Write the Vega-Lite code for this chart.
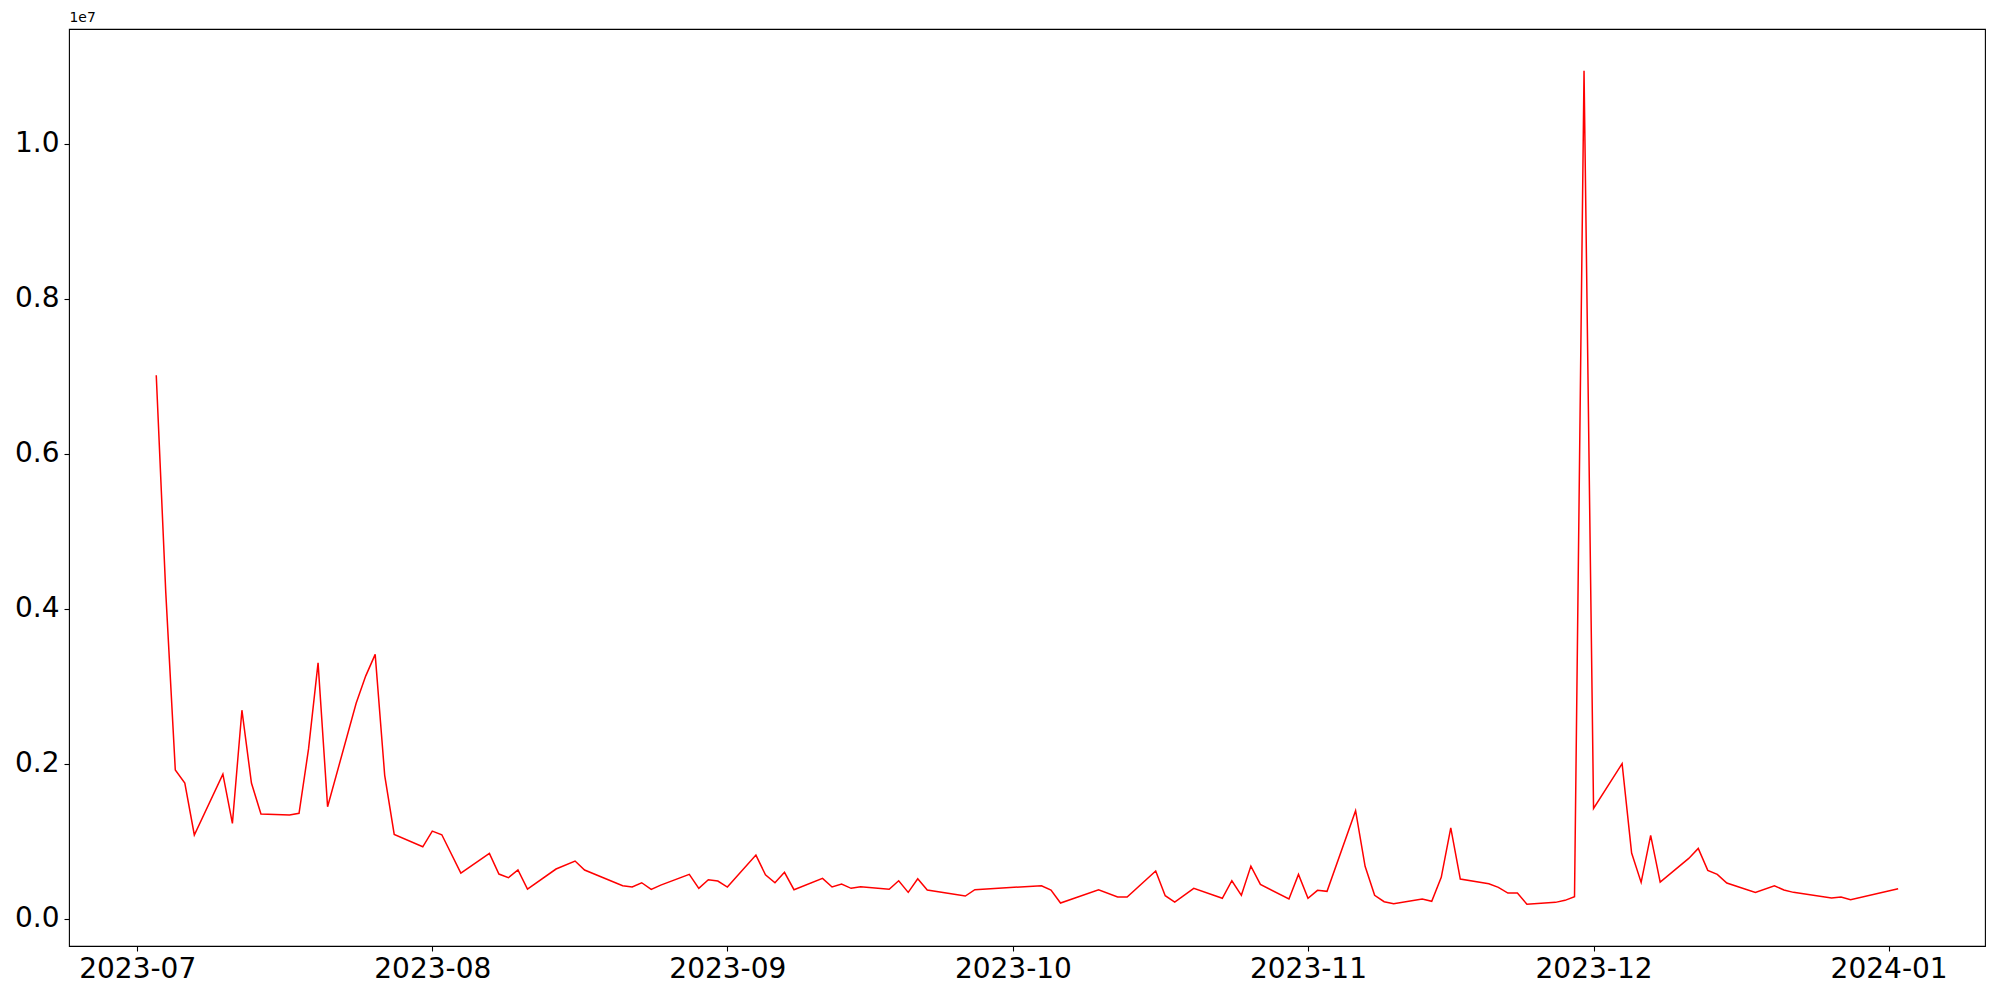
{
  "$schema": "https://vega.github.io/schema/vega-lite/v6.json",
  "width": 1916,
  "height": 917,
  "autosize": {"type": "none"},
  "padding": {"left": 69, "top": 29, "right": 15, "bottom": 54},
  "background": "white",
  "config": {
    "view": {"stroke": "black", "strokeWidth": 1.1},
    "font": "DejaVu Sans"
  },
  "data": {
    "values": [
      {"date": "2023-07-03", "value": 7010000},
      {"date": "2023-07-04", "value": 4210000},
      {"date": "2023-07-05", "value": 1920000},
      {"date": "2023-07-06", "value": 1750000},
      {"date": "2023-07-07", "value": 1080000},
      {"date": "2023-07-10", "value": 1866000},
      {"date": "2023-07-11", "value": 1230000},
      {"date": "2023-07-12", "value": 2690000},
      {"date": "2023-07-13", "value": 1750000},
      {"date": "2023-07-14", "value": 1350000},
      {"date": "2023-07-17", "value": 1337000},
      {"date": "2023-07-18", "value": 1360000},
      {"date": "2023-07-19", "value": 2190000},
      {"date": "2023-07-20", "value": 3300000},
      {"date": "2023-07-21", "value": 1444000},
      {"date": "2023-07-24", "value": 2780000},
      {"date": "2023-07-25", "value": 3130000},
      {"date": "2023-07-26", "value": 3410000},
      {"date": "2023-07-27", "value": 1850000},
      {"date": "2023-07-28", "value": 1088000},
      {"date": "2023-07-31", "value": 928000},
      {"date": "2023-08-01", "value": 1130000},
      {"date": "2023-08-02", "value": 1083000},
      {"date": "2023-08-04", "value": 589000},
      {"date": "2023-08-07", "value": 843000},
      {"date": "2023-08-08", "value": 576000},
      {"date": "2023-08-09", "value": 529000},
      {"date": "2023-08-10", "value": 628000},
      {"date": "2023-08-11", "value": 383000},
      {"date": "2023-08-14", "value": 641000},
      {"date": "2023-08-16", "value": 744000},
      {"date": "2023-08-17", "value": 628000},
      {"date": "2023-08-21", "value": 426000},
      {"date": "2023-08-22", "value": 409000},
      {"date": "2023-08-23", "value": 464000},
      {"date": "2023-08-24", "value": 379000},
      {"date": "2023-08-25", "value": 434000},
      {"date": "2023-08-28", "value": 572000},
      {"date": "2023-08-29", "value": 392000},
      {"date": "2023-08-30", "value": 503000},
      {"date": "2023-08-31", "value": 486000},
      {"date": "2023-09-01", "value": 409000},
      {"date": "2023-09-04", "value": 821000},
      {"date": "2023-09-05", "value": 567000},
      {"date": "2023-09-06", "value": 464000},
      {"date": "2023-09-07", "value": 598000},
      {"date": "2023-09-08", "value": 374000},
      {"date": "2023-09-11", "value": 521000},
      {"date": "2023-09-12", "value": 409000},
      {"date": "2023-09-13", "value": 447000},
      {"date": "2023-09-14", "value": 392000},
      {"date": "2023-09-15", "value": 413000},
      {"date": "2023-09-18", "value": 379000},
      {"date": "2023-09-19", "value": 490000},
      {"date": "2023-09-20", "value": 340000},
      {"date": "2023-09-21", "value": 516000},
      {"date": "2023-09-22", "value": 370000},
      {"date": "2023-09-26", "value": 293000},
      {"date": "2023-09-27", "value": 374000},
      {"date": "2023-10-04", "value": 426000},
      {"date": "2023-10-05", "value": 370000},
      {"date": "2023-10-06", "value": 202000},
      {"date": "2023-10-10", "value": 374000},
      {"date": "2023-10-12", "value": 280000},
      {"date": "2023-10-13", "value": 280000},
      {"date": "2023-10-16", "value": 615000},
      {"date": "2023-10-17", "value": 297000},
      {"date": "2023-10-18", "value": 215000},
      {"date": "2023-10-20", "value": 392000},
      {"date": "2023-10-23", "value": 263000},
      {"date": "2023-10-24", "value": 490000},
      {"date": "2023-10-25", "value": 302000},
      {"date": "2023-10-26", "value": 679000},
      {"date": "2023-10-27", "value": 443000},
      {"date": "2023-10-30", "value": 254000},
      {"date": "2023-10-31", "value": 572000},
      {"date": "2023-11-01", "value": 263000},
      {"date": "2023-11-02", "value": 366000},
      {"date": "2023-11-03", "value": 353000},
      {"date": "2023-11-06", "value": 1393000},
      {"date": "2023-11-07", "value": 676000},
      {"date": "2023-11-08", "value": 302000},
      {"date": "2023-11-09", "value": 219000},
      {"date": "2023-11-10", "value": 193000},
      {"date": "2023-11-13", "value": 254000},
      {"date": "2023-11-14", "value": 224000},
      {"date": "2023-11-15", "value": 534000},
      {"date": "2023-11-16", "value": 1173000},
      {"date": "2023-11-17", "value": 512000},
      {"date": "2023-11-20", "value": 451000},
      {"date": "2023-11-21", "value": 405000},
      {"date": "2023-11-22", "value": 331000},
      {"date": "2023-11-23", "value": 331000},
      {"date": "2023-11-24", "value": 186000},
      {"date": "2023-11-27", "value": 211000},
      {"date": "2023-11-28", "value": 237000},
      {"date": "2023-11-29", "value": 284000},
      {"date": "2023-11-30", "value": 10940000},
      {"date": "2023-12-01", "value": 1423000},
      {"date": "2023-12-04", "value": 2000000},
      {"date": "2023-12-05", "value": 847000},
      {"date": "2023-12-06", "value": 469000},
      {"date": "2023-12-07", "value": 1075000},
      {"date": "2023-12-08", "value": 473000},
      {"date": "2023-12-11", "value": 778000},
      {"date": "2023-12-12", "value": 907000},
      {"date": "2023-12-13", "value": 624000},
      {"date": "2023-12-14", "value": 572000},
      {"date": "2023-12-15", "value": 460000},
      {"date": "2023-12-18", "value": 340000},
      {"date": "2023-12-20", "value": 426000},
      {"date": "2023-12-21", "value": 370000},
      {"date": "2023-12-22", "value": 340000},
      {"date": "2023-12-26", "value": 267000},
      {"date": "2023-12-27", "value": 280000},
      {"date": "2023-12-28", "value": 245000},
      {"date": "2024-01-02", "value": 387000}
    ]
  },
  "mark": {"type": "line", "color": "#ff0000", "strokeWidth": 1.5, "clip": true},
  "encoding": {
    "x": {
      "field": "date",
      "type": "temporal",
      "scale": {
        "type": "utc",
        "domain": [
          {"year": 2023, "month": 6, "date": 23, "hours": 20, "utc": true},
          {"year": 2024, "month": 1, "date": 11, "hours": 3, "utc": true}
        ],
        "nice": false
      },
      "axis": {
        "title": null,
        "grid": false,
        "domain": false,
        "values": [
          {"year": 2023, "month": 7, "date": 1, "utc": true},
          {"year": 2023, "month": 8, "date": 1, "utc": true},
          {"year": 2023, "month": 9, "date": 1, "utc": true},
          {"year": 2023, "month": 10, "date": 1, "utc": true},
          {"year": 2023, "month": 11, "date": 1, "utc": true},
          {"year": 2023, "month": 12, "date": 1, "utc": true},
          {"year": 2024, "month": 1, "date": 1, "utc": true}
        ],
        "labelExpr": "utcFormat(datum.value, '%Y-%m')",
        "labelFontSize": 28,
        "labelColor": "black",
        "labelFont": "DejaVu Sans",
        "labelPadding": 4,
        "labelFlush": false,
        "labelOverlap": false,
        "tickColor": "black",
        "tickSize": 5,
        "tickWidth": 1.1
      }
    },
    "y": {
      "field": "value",
      "type": "quantitative",
      "scale": {"domain": [-352000, 11478000], "nice": false, "zero": false},
      "axis": {
        "title": "1e7",
        "titleAngle": 0,
        "titleX": 0,
        "titleY": -5,
        "titleAlign": "left",
        "titleBaseline": "bottom",
        "titleFontSize": 13.9,
        "titleFontWeight": "normal",
        "titleFont": "DejaVu Sans",
        "titleColor": "black",
        "grid": false,
        "domain": false,
        "values": [0, 2000000, 4000000, 6000000, 8000000, 10000000],
        "labelExpr": "format(datum.value / 10000000, '.1f')",
        "labelFontSize": 28,
        "labelColor": "black",
        "labelFont": "DejaVu Sans",
        "labelPadding": 5,
        "labelFlush": false,
        "labelOverlap": false,
        "tickColor": "black",
        "tickSize": 5,
        "tickWidth": 1.1
      }
    }
  }
}
